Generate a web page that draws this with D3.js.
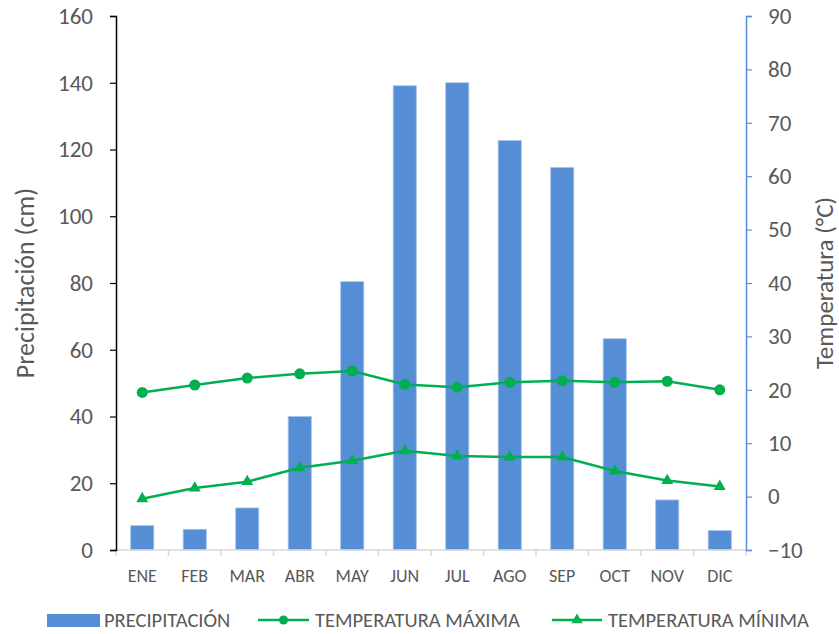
<!DOCTYPE html>
<html>
<head>
<meta charset="utf-8">
<script src="https://cdn.jsdelivr.net/npm/d3@7"></script>
<style>
  html, body { margin: 0; padding: 0; background: #fff; }
  svg text { font-family: Carlito, Lato, "Open Sans", sans-serif; fill: #595959; }
</style>
</head>
<body>
<svg id="chart" width="839" height="634"></svg>
<script>
// Monthly climate data
const months = ["ENE","FEB","MAR","ABR","MAY","JUN","JUL","AGO","SEP","OCT","NOV","DIC"];
const precipitation = [7.3, 6.2, 12.6, 40.0, 80.4, 139.1, 140.0, 122.7, 114.6, 63.3, 15.0, 5.8];
const tempMax = [19.5, 20.9, 22.2, 23.0, 23.5, 21.0, 20.5, 21.4, 21.7, 21.4, 21.6, 20.0];
const tempMin = [-0.4, 1.6, 2.8, 5.4, 6.7, 8.6, 7.6, 7.4, 7.4, 4.8, 3.0, 1.9];
const precipTicks = [0, 20, 40, 60, 80, 100, 120, 140, 160];
const tempTicks = [-10, 0, 10, 20, 30, 40, 50, 60, 70, 80, 90];
const seriesNames = ["PRECIPITACIÓN", "TEMPERATURA MÁXIMA", "TEMPERATURA MÍNIMA"];

const barColor = "#558ED5";
const lineColor = "#00B050";

const svg = d3.select("#chart");
const plotLeft = 116, plotRight = 746, plotTop = 16, plotBottom = 550;

const x = d3.scaleBand().domain(months).range([plotLeft, plotRight]);
const yP = d3.scaleLinear().domain([0, 160]).range([plotBottom, plotTop]);
const yT = d3.scaleLinear().domain([-10, 90]).range([plotBottom, plotTop]);
const barWidth = x.step() / 2.27;
const cx = (d, i) => x(months[i]) + x.bandwidth() / 2;

// Bars
svg.append("g").selectAll("rect").data(precipitation).join("rect")
  .attr("x", (d, i) => cx(d, i) - barWidth / 2)
  .attr("width", barWidth)
  .attr("y", d => yP(d))
  .attr("height", d => yP(0) - yP(d))
  .attr("fill", barColor)
  .attr("stroke", "#a8c3ea")
  .attr("stroke-width", 0.8);

// Category axis
const xAxis = svg.append("g").attr("transform", `translate(0,${plotBottom})`);
xAxis.append("line").attr("x1", plotLeft).attr("x2", plotRight).attr("stroke", "#d9d9d9").attr("stroke-width", 1.5);
xAxis.selectAll("line.tk").data(d3.range(months.length + 1)).join("line")
  .attr("class", "tk")
  .attr("x1", i => plotLeft + i * x.step()).attr("x2", i => plotLeft + i * x.step())
  .attr("y1", 0).attr("y2", 6).attr("stroke", "#d9d9d9").attr("stroke-width", 1.5);
xAxis.selectAll("text").data(months).join("text")
  .attr("x", d => x(d) + x.bandwidth() / 2)
  .attr("y", 26)
  .attr("dy", "0.35em")
  .attr("text-anchor", "middle")
  .style("font-size", "18px")
  .text(d => d);

// Left axis (precipitation)
const gL = svg.append("g").attr("transform", `translate(${plotLeft},0)`)
  .call(d3.axisLeft(yP).tickValues(precipTicks).tickSize(6).tickPadding(17));
gL.select(".domain").attr("stroke", "#000").attr("stroke-width", 1.5);
gL.selectAll(".tick line").attr("stroke", "#000").attr("stroke-width", 1.2);
gL.selectAll(".tick text").style("font-size", "23px").attr("fill", "#595959");

// Right axis (temperature)
const gR = svg.append("g").attr("transform", `translate(${plotRight},0)`)
  .call(d3.axisRight(yT).tickValues(tempTicks).tickSize(6).tickPadding(16));
gR.select(".domain").attr("stroke", "#5B8CD4").attr("stroke-width", 1.5);
gR.selectAll(".tick line").attr("stroke", "#5B8CD4").attr("stroke-width", 1.2);
gR.selectAll(".tick text").style("font-size", "23px").attr("fill", "#595959");

// Axis titles
svg.append("text")
  .attr("transform", `translate(25,${(plotTop + plotBottom) / 2}) rotate(-90)`)
  .attr("text-anchor", "middle").attr("dy", "0.35em").style("font-size", "26px")
  .text("Precipitación (cm)");
svg.append("text")
  .attr("transform", `translate(824,${(plotTop + plotBottom) / 2}) rotate(-90)`)
  .attr("text-anchor", "middle").attr("dy", "0.35em").style("font-size", "25px")
  .text("Temperatura (°C)");

// Temperature lines
const tLine = d3.line().x(cx).y(d => yT(d));
svg.append("path").datum(tempMax).attr("d", tLine)
  .attr("fill", "none").attr("stroke", lineColor).attr("stroke-width", 2.5);
svg.append("path").datum(tempMin).attr("d", tLine)
  .attr("fill", "none").attr("stroke", lineColor).attr("stroke-width", 2.5);

svg.append("g").selectAll("circle").data(tempMax).join("circle")
  .attr("cx", cx).attr("cy", d => yT(d)).attr("r", 5.5).attr("fill", lineColor);

const tri = d3.symbol().type(d3.symbolTriangle).size(62);
svg.append("g").selectAll("path").data(tempMin).join("path")
  .attr("d", tri)
  .attr("transform", (d, i) => `translate(${cx(d, i)},${yT(d)})`)
  .attr("fill", lineColor);

// Legend
const lg = svg.append("g").attr("transform", "translate(0,620)");
const legendFont = "20.5px";
lg.append("rect").attr("x", 47).attr("y", -6).attr("width", 53).attr("height", 13).attr("fill", barColor);
lg.append("text").attr("x", 104).attr("y", 0).attr("dy", "0.35em").style("font-size", legendFont).text(seriesNames[0]);

lg.append("line").attr("x1", 258).attr("x2", 309).attr("stroke", lineColor).attr("stroke-width", 2.5);
lg.append("circle").attr("cx", 283.5).attr("cy", 0).attr("r", 4.5).attr("fill", lineColor);
lg.append("text").attr("x", 315).attr("y", 0).attr("dy", "0.35em").style("font-size", legendFont).text(seriesNames[1]);

lg.append("line").attr("x1", 552).attr("x2", 602).attr("stroke", lineColor).attr("stroke-width", 2.5);
lg.append("path").attr("d", d3.symbol().type(d3.symbolTriangle).size(55)).attr("transform", "translate(577,0)").attr("fill", lineColor);
lg.append("text").attr("x", 608).attr("y", 0).attr("dy", "0.35em").style("font-size", legendFont).text(seriesNames[2]);
</script>
</body>
</html>
